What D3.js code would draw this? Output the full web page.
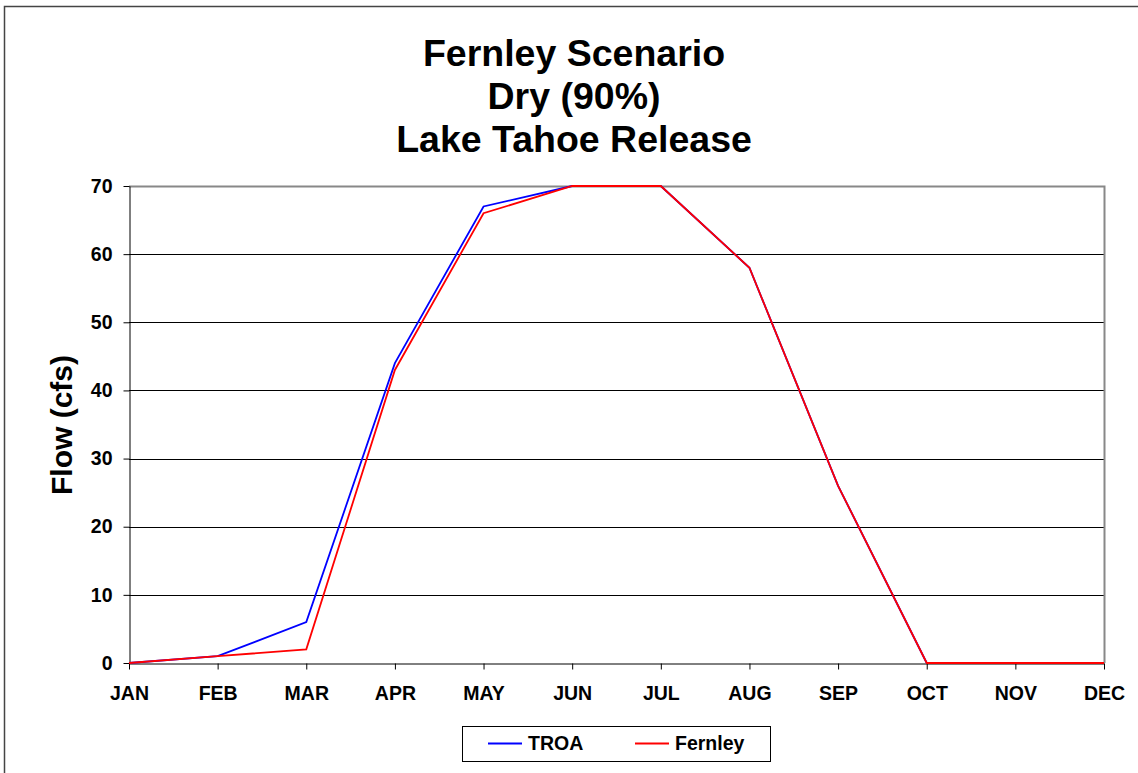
<!DOCTYPE html>
<html>
<head>
<meta charset="utf-8">
<script src="https://cdn.jsdelivr.net/npm/d3@7"></script>
<style>
  html, body { margin: 0; padding: 0; background: #fff; }
  svg { display: block; font-family: Arial, "Liberation Sans", sans-serif; }
</style>
</head>
<body>
<svg id="chart" width="1138" height="773"></svg>
<script>
const months = ["JAN","FEB","MAR","APR","MAY","JUN","JUL","AUG","SEP","OCT","NOV","DEC"];
const troa = [0, 1, 6, 44, 67, 70, 70, 58, 26, 0, 0, 0];
const fernley = [0, 1, 2, 43, 66, 70, 70, 58, 26, 0, 0, 0];
const yTicks = [0, 10, 20, 30, 40, 50, 60, 70];
const titleLines = ["Fernley Scenario", "Dry (90%)", "Lake Tahoe Release"];
const seriesNames = ["TROA", "Fernley"];
const seriesColors = ["#0000ff", "#ff0000"];

const svg = d3.select("#chart");
const m = { left: 129, right: 1104, top: 186, bottom: 663 };
const FONT = "Arial, 'Liberation Sans', sans-serif";

// outer chart border
svg.append("rect")
  .attr("x", 4.5).attr("y", 6.5)
  .attr("width", 1140).attr("height", 780)
  .attr("fill", "#fff").attr("stroke", "#444").attr("stroke-width", 1.5);

const x = d3.scalePoint().domain(months).range([m.left, m.right]);
const y = d3.scaleLinear().domain([0, 70]).range([m.bottom, m.top]);

// title
svg.append("g").selectAll("text").data(titleLines).join("text")
  .attr("x", 574).attr("y", (d, i) => 66 + i * 43)
  .attr("text-anchor", "middle")
  .attr("font-size", 37.5).attr("font-weight", "bold")
  .attr("fill", "#000")
  .text(d => d);

// gridlines
svg.append("g").selectAll("line").data(yTicks.filter(t => t > 0 && t < 70)).join("line")
  .attr("x1", m.left).attr("x2", m.right)
  .attr("y1", d => Math.round(y(d)) + 0.5).attr("y2", d => Math.round(y(d)) + 0.5)
  .attr("stroke", "#000").attr("stroke-width", 1);

// plot border top/right gray
svg.append("path")
  .attr("d", `M${m.left},${m.top + 0.5}H${m.right + 0.5}V${m.bottom}`)
  .attr("fill", "none").attr("stroke", "#888").attr("stroke-width", 2);

// y axis
const yAxis = svg.append("g")
  .attr("transform", `translate(${m.left + 0.5},0)`)
  .call(d3.axisLeft(y).tickValues(yTicks).tickSize(6).tickPadding(11).tickSizeOuter(0));
yAxis.select(".domain").attr("stroke", "#000");
yAxis.selectAll(".tick line").attr("stroke", "#000");
yAxis.selectAll("text")
  .attr("font-size", 19.5).attr("font-weight", "bold")
  .attr("font-family", FONT).attr("fill", "#000");

// x axis
const xAxis = svg.append("g")
  .attr("transform", `translate(0,${m.bottom + 0.5})`)
  .call(d3.axisBottom(x).tickSize(6).tickPadding(17).tickSizeOuter(0));
xAxis.select(".domain").attr("stroke", "#000");
xAxis.selectAll(".tick line").attr("stroke", "#000");
xAxis.selectAll("text")
  .attr("font-size", 19.5).attr("font-weight", "bold")
  .attr("font-family", FONT).attr("fill", "#000");

// y label
svg.append("text")
  .attr("transform", `translate(72,425) rotate(-90)`)
  .attr("text-anchor", "middle")
  .attr("font-size", 30).attr("font-weight", "bold")
  .attr("fill", "#000")
  .text("Flow (cfs)");

// lines
const line = d3.line().x((d, i) => x(months[i])).y(d => y(d));
[troa, fernley].forEach((s, k) => {
  svg.append("path").datum(s)
    .attr("d", line)
    .attr("fill", "none")
    .attr("stroke", seriesColors[k])
    .attr("stroke-width", 1.8)
    .attr("stroke-linejoin", "miter");
});

// legend
const lg = svg.append("g");
lg.append("rect")
  .attr("x", 462.5).attr("y", 726.5).attr("width", 308).attr("height", 35)
  .attr("fill", "#fff").attr("stroke", "#000").attr("stroke-width", 1);
const legX = [488, 635];
seriesNames.forEach((n, k) => {
  lg.append("line")
    .attr("x1", legX[k]).attr("x2", legX[k] + 34)
    .attr("y1", 743.5).attr("y2", 743.5)
    .attr("stroke", seriesColors[k]).attr("stroke-width", 1.8);
  lg.append("text")
    .attr("x", legX[k] + 40).attr("y", 750)
    .attr("font-size", 19.5).attr("font-weight", "bold")
    .attr("fill", "#000")
    .text(n);
});
</script>
</body>
</html>
